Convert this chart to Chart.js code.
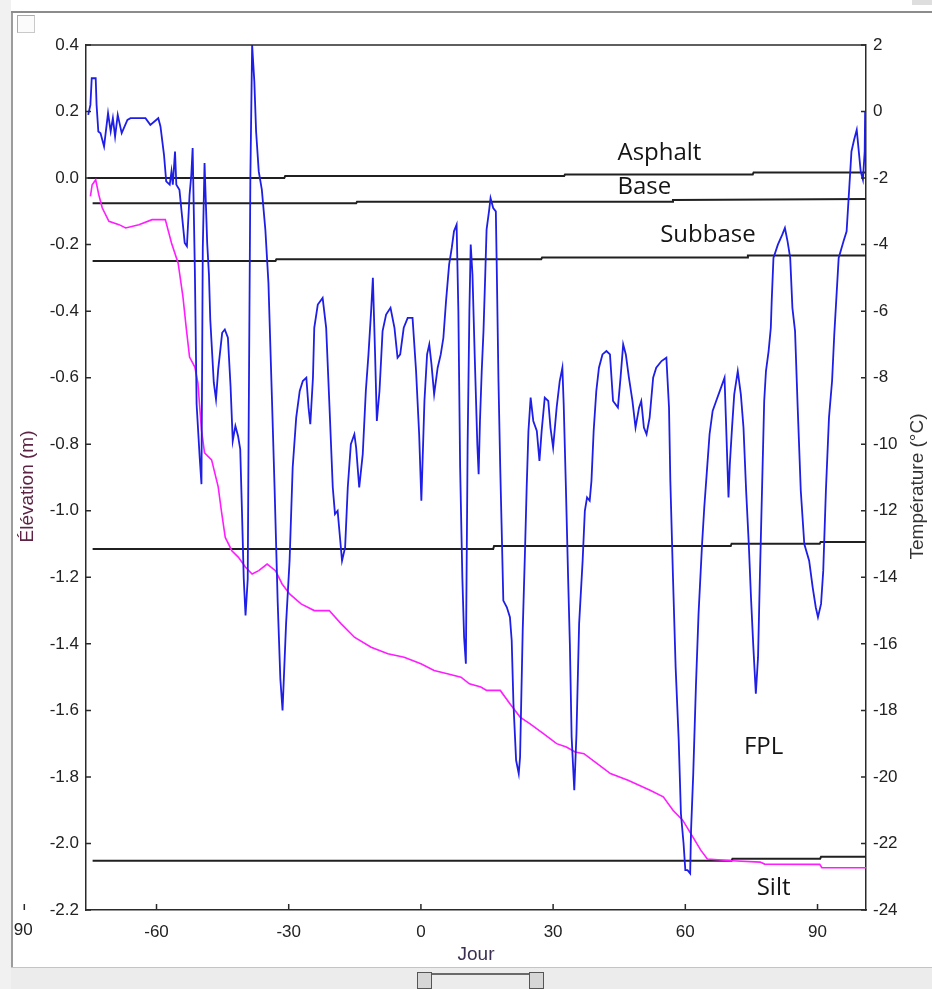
<!DOCTYPE html>
<html>
<head>
<meta charset="utf-8">
<title>Élévation et température</title>
<script src="https://cdn.jsdelivr.net/npm/chart.js@4.4.1/dist/chart.umd.min.js"></script>
<style>
    html, body { margin: 0; padding: 0; background: #ffffff; }
    #wrap { position: relative; width: 932px; height: 989px; overflow: hidden; }
    #chart { position: absolute; left: 0; top: 0; }
    .chrome { position: absolute; z-index: 2; }
    #leftStrip { left: 0; top: 0; width: 11px; height: 989px; background: #f1f1f1; }
    #leftLine { left: 11px; top: 11px; width: 2px; height: 957px; background: #9c9c9c; }
    #topLine { left: 11px; top: 11px; width: 921px; height: 2px; background: #8c8c8c; }
    #topBox { left: 912px; top: 0; width: 20px; height: 5px; background: #dedede; }
    #checkBox { left: 17px; top: 15px; width: 16px; height: 16px; border: 1px solid #c9c9c9; border-top-color: #a9a9a9; border-left-color: #a9a9a9; background: #fbfbfb; }
    #bottomBar { left: 11px; top: 967px; width: 921px; height: 22px; background: #ececec; border-top: 1px solid #c4c4c4; }
    .knob { top: 972px; width: 13px; height: 15px; border: 1px solid #555; background: #d6d6d6; }
    #knobLeft { left: 417px; }
    #knobRight { left: 529px; }
    #knobTrack { left: 432px; top: 973px; width: 97px; height: 2px; background: #6a6a6a; }
</style>
</head>
<body>
<div id="wrap">
    <canvas id="chart" width="932" height="989"></canvas>
    <div class="chrome" id="leftStrip"></div>
    <div class="chrome" id="leftLine"></div>
    <div class="chrome" id="topLine"></div>
    <div class="chrome" id="topBox"></div>
    <div class="chrome" id="checkBox"></div>
    <div class="chrome" id="bottomBar"></div>
    <div class="chrome knob" id="knobLeft"></div>
    <div class="chrome knob" id="knobRight"></div>
    <div class="chrome" id="knobTrack"></div>
</div>
<script>
// Axis ticks
const dayTicks = [-60, -30, 0, 30, 60, 90];
const elevTicks = [0.4, 0.2, 0.0, -0.2, -0.4, -0.6, -0.8, -1.0, -1.2, -1.4, -1.6, -1.8, -2.0, -2.2];
const tempTicks = [2, 0, -2, -4, -6, -8, -10, -12, -14, -16, -18, -20, -22, -24];

// Température (°C), blue trace
const tempDays = [
    -75.5, -75.0, -74.7, -73.8, -73.6, -73.2, -72.7, -71.9, -71.0, -70.4, -69.9, -69.4, -68.8, -67.9, -66.6, -65.9,
    -62.5, -61.4, -59.6, -59.1, -58.3, -57.8, -57.0, -56.6, -56.3, -55.8, -55.5, -54.8, -54.2, -53.6, -53.1, -52.5,
    -52.1, -51.8, -51.3, -50.9, -50.2, -49.8, -49.5, -49.1, -48.9, -48.5, -48.1, -47.8, -47.0, -46.5, -46.0, -45.1,
    -44.5, -43.8, -43.2, -42.7, -42.1, -41.5, -41.0, -40.6, -40.2, -39.8, -39.3, -39.1, -38.7, -38.3, -37.8, -37.4,
    -36.8, -36.1, -35.3, -34.6, -33.8, -33.2, -32.5, -31.9, -31.4, -30.6, -29.8, -29.1, -28.3, -27.5, -26.8, -26.0,
    -25.5, -25.1, -24.5, -24.2, -23.4, -22.3, -21.5, -20.8, -20.0, -19.5, -18.9, -18.3, -17.9, -17.2, -16.6, -15.9,
    -15.1, -14.7, -14.0, -13.2, -12.5, -11.9, -11.3, -10.9, -10.4, -10.0, -9.4, -8.7, -7.9, -6.9, -6.0, -5.3,
    -4.7, -3.9, -3.0, -1.9, -1.1, -0.4, 0.1, 0.8, 1.4, 1.9, 2.4, 3.0, 3.8, 4.5, 5.1, 5.7,
    6.4, 7.0, 7.5, 8.1, 8.5, 8.9, 9.4, 9.8, 10.2, 10.6, 11.0, 11.3, 11.7, 12.2, 12.8, 13.1,
    13.4, 13.8, 14.2, 14.6, 14.9, 15.5, 15.8, 16.4, 17.0, 17.2, 17.6, 18.0, 18.3, 18.7, 19.5, 20.2,
    20.6, 21.0, 21.6, 22.2, 22.5, 23.1, 23.6, 24.0, 24.4, 24.9, 25.5, 26.3, 26.9, 27.4, 28.1, 28.9,
    29.4, 30.0, 30.8, 31.5, 32.1, 32.4, 32.9, 33.4, 33.8, 34.2, 34.8, 35.3, 35.9, 36.7, 37.2, 37.7,
    38.3, 38.7, 39.2, 39.8, 40.4, 41.2, 42.1, 42.9, 43.6, 44.7, 45.3, 45.9, 46.5, 47.2, 48.0, 48.7,
    49.5, 50.0, 50.6, 51.2, 51.9, 52.7, 53.4, 54.6, 55.7, 56.3, 56.6, 57.2, 57.8, 58.5, 59.0, 59.6,
    60.0, 60.5, 61.1, 61.3, 61.8, 62.4, 63.0, 63.8, 64.3, 64.9, 65.5, 66.2, 67.0, 68.1, 68.9, 69.2,
    69.6, 69.8, 70.1, 70.6, 71.1, 71.9, 72.6, 73.2, 73.8, 74.4, 74.9, 75.4, 76.0, 76.5, 76.9, 77.4,
    77.9, 78.3, 78.9, 79.4, 79.6, 80.0, 81.0, 82.0, 82.6, 83.2, 83.8, 84.3, 84.9, 85.5, 86.2, 87.0,
    88.1, 88.9, 89.6, 90.1, 90.8, 91.3, 91.9, 92.6, 93.3, 93.8, 94.8, 95.9, 96.6, 97.2, 97.7, 98.3,
    98.9, 99.4, 99.8, 100.3, 100.7, 100.8
];
const tempValues = [
    -0.1, 0.2, 1.0, 1.0, 0.2, -0.6, -0.65, -1.05, -0.05, -0.6, -0.2, -0.75, -0.1, -0.65, -0.25, -0.2,
    -0.2, -0.4, -0.2, -0.45, -1.3, -2.1, -2.2, -1.8, -2.2, -1.2, -2.2, -2.35, -3.15, -3.95, -4.05, -2.5,
    -1.9, -1.1, -4.75, -8.8, -10.4, -11.2, -4.1, -1.55, -2.35, -3.95, -4.9, -6.25, -8.15, -8.65, -7.75, -6.65,
    -6.55, -6.8, -8.25, -9.9, -9.45, -9.75, -10.15, -12.05, -14.05, -15.15, -14.05, -9.75, -1.95, 2.0, 0.9, -0.6,
    -1.8, -2.35, -3.55, -5.15, -8.65, -11.35, -14.75, -17.05, -18.0, -15.4, -13.5, -10.7, -9.2, -8.4, -8.1, -8.0,
    -8.9, -9.4, -8.0, -6.5, -5.8, -5.6, -6.5, -8.7, -11.3, -12.1, -12.0, -12.9, -13.5, -13.1, -11.3, -10.0,
    -9.7, -10.1, -11.3, -10.3, -8.4, -7.3, -6.0, -5.0, -7.3, -9.3, -8.4, -6.6, -6.1, -5.9, -6.5, -7.4,
    -7.3, -6.5, -6.2, -6.2, -7.8, -9.7, -11.7, -8.7, -7.3, -7.0, -7.6, -8.5, -7.7, -7.3, -6.8, -5.7,
    -4.6, -4.1, -3.6, -3.4, -6.0, -10.7, -14.0, -15.8, -16.6, -10.0, -6.0, -4.0, -4.9, -7.3, -10.0, -10.9,
    -9.3, -7.8, -6.6, -4.9, -3.55, -2.95, -2.6, -2.9, -3.0, -4.6, -8.1, -10.7, -12.4, -14.7, -14.9, -15.2,
    -15.9, -17.8, -19.5, -19.9, -19.4, -15.6, -13.3, -11.3, -9.6, -8.6, -9.3, -9.6, -10.5, -9.6, -8.6, -8.7,
    -9.5, -10.1, -8.9, -8.1, -7.7, -8.8, -11.3, -14.0, -16.0, -18.8, -20.4, -18.7, -15.4, -13.5, -12.0, -11.6,
    -11.7, -11.1, -9.6, -8.4, -7.7, -7.3, -7.2, -7.3, -8.7, -8.9, -8.0, -7.0, -7.3, -8.0, -8.7, -9.5,
    -8.9, -8.7, -9.5, -9.7, -9.2, -8.0, -7.7, -7.5, -7.4, -8.9, -11.1, -14.0, -16.7, -18.9, -21.1, -22.0,
    -22.8, -22.8, -22.9, -21.6, -19.9, -17.3, -15.1, -13.0, -11.9, -10.8, -9.7, -9.0, -8.7, -8.3, -8.0, -9.2,
    -10.8, -11.6, -10.6, -9.5, -8.5, -7.8, -8.5, -9.5, -11.4, -13.0, -14.6, -16.0, -17.5, -16.4, -14.1, -11.4,
    -8.7, -7.8, -7.2, -6.5, -5.7, -4.4, -4.0, -3.7, -3.5, -3.9, -4.4, -5.9, -6.6, -8.9, -11.4, -13.0,
    -13.5, -14.3, -14.9, -15.2, -14.8, -13.8, -11.4, -9.2, -8.1, -6.7, -4.4, -3.9, -3.6, -2.3, -1.2, -0.85,
    -0.55, -1.25, -1.8, -2.05, -1.2, 0.0
];

// Élévation (m) of the frost front, magenta trace
const frostDays = [
    -75.0, -74.6, -73.8, -73.1, -72.3, -70.8, -68.5, -67.0, -64.0, -61.0, -58.0, -56.6, -55.1, -54.0, -53.2, -52.5,
    -51.3, -50.6, -49.8, -49.1, -47.5, -46.0, -45.3, -44.4, -42.9, -41.4, -39.8, -38.3, -36.8, -34.9, -33.0,
    -31.5, -29.8, -27.2, -24.2, -20.8, -18.1, -15.1, -11.3, -7.5, -3.8, 0.0, 3.0, 6.0, 9.1, 11.0, 13.6,
    14.9, 18.0, 20.2, 22.5, 24.7, 27.8, 30.8, 33.0, 35.0, 37.0, 40.0, 43.0, 47.0, 52.0, 55.0, 57.2,
    59.4, 61.7, 63.5, 65.0, 70.6, 77.0, 78.0, 90.5, 91.0, 101.0
];
const frostElev = [
    -0.055, -0.02, -0.005, -0.05, -0.09, -0.13, -0.14, -0.15, -0.14, -0.125, -0.125, -0.195, -0.255, -0.357, -0.457, -0.538,
    -0.568, -0.616, -0.757, -0.826, -0.847, -0.928, -0.998, -1.08, -1.12, -1.14, -1.17, -1.19, -1.18, -1.16, -1.18,
    -1.22, -1.25, -1.28, -1.30, -1.30, -1.34, -1.38, -1.41, -1.43, -1.44, -1.46, -1.48, -1.49, -1.50, -1.52, -1.53,
    -1.54, -1.54, -1.58, -1.62, -1.64, -1.67, -1.70, -1.71, -1.725, -1.73, -1.76, -1.79, -1.81, -1.84, -1.86, -1.90,
    -1.93, -1.98, -2.02, -2.047, -2.052, -2.056, -2.062, -2.063, -2.073, -2.073
];

// Layer boundaries (m)
const asphaltDays = [-75.6, -31.0, -30.8, 32.5, 32.7, 75.3, 75.5, 101.0];
const asphaltElev = [0.0, 0.0, 0.006, 0.006, 0.011, 0.011, 0.017, 0.017];
const baseDays = [-74.5, -14.7, -14.5, 57.0, 57.2, 101.0];
const baseElev = [-0.076, -0.076, -0.071, -0.071, -0.066, -0.063];
const subbaseDays = [-74.5, -33.0, -32.8, 27.3, 27.5, 74.0, 74.2, 101.0];
const subbaseElev = [-0.249, -0.249, -0.244, -0.244, -0.239, -0.239, -0.233, -0.233];
const fplDays = [-74.5, 16.4, 16.6, 70.3, 70.5, 90.5, 90.7, 101.0];
const fplElev = [-1.115, -1.115, -1.106, -1.106, -1.099, -1.099, -1.094, -1.094];
const siltDays = [-74.5, 70.5, 70.7, 90.6, 90.8, 101.0];
const siltElev = [-2.052, -2.052, -2.046, -2.046, -2.040, -2.040];

// Layer names and where they are written (day, elevation of the baseline)
const layerNames = ['Asphalt', 'Base', 'Subbase', 'FPL', 'Silt'];
const layerNameDays = [44.6, 44.6, 54.3, 73.3, 76.2];
const layerNameElev = [0.054, -0.048, -0.191, -1.731, -2.155];

const TICK_FONT = { family: '"Liberation Sans", Arial, sans-serif', size: 17 };
const TITLE_FONT = { family: '"Liberation Sans", Arial, sans-serif', size: 19 };
const AXIS_COLOR = '#2a2a2a';

function toPoints(xs, ys) {
    return xs.map((x, i) => ({ x: x, y: ys[i] }));
}

function layerDataset(days, elev) {
    return {
        data: toPoints(days, elev),
        yAxisID: 'y',
        borderColor: '#202020',
        borderWidth: 2,
        pointRadius: 0,
        tension: 0,
    };
}

function drawVerticalTitle(ctx, text, cx, cy, color) {
    ctx.save();
    ctx.translate(cx, cy);
    ctx.rotate(-Math.PI / 2);
    ctx.fillStyle = color;
    ctx.font = `${TITLE_FONT.size}px ${TITLE_FONT.family}`;
    ctx.textAlign = 'center';
    ctx.textBaseline = 'middle';
    ctx.fillText(text, 0, 0);
    ctx.restore();
}

// inward tick marks, top frame line, vertical titles, stray -90 tick, layer names
const chartDecor = {
    id: 'chartDecor',
    afterDraw(chart) {
        const ctx = chart.ctx;
        const area = chart.chartArea;
        const x = chart.scales.x;
        const y = chart.scales.y;
        const yT = chart.scales.yT;

        ctx.save();
        ctx.strokeStyle = AXIS_COLOR;
        ctx.lineWidth = 1.5;

        ctx.beginPath();
        ctx.moveTo(area.left, area.top);
        ctx.lineTo(area.right, area.top);
        ctx.stroke();

        ctx.beginPath();
        elevTicks.forEach((v) => {
            const py = y.getPixelForValue(v);
            ctx.moveTo(area.left, py);
            ctx.lineTo(area.left + 5, py);
        });
        tempTicks.forEach((v) => {
            const py = yT.getPixelForValue(v);
            ctx.moveTo(area.right, py);
            ctx.lineTo(area.right - 5, py);
        });
        dayTicks.concat([-90]).forEach((v) => {
            const px = x.getPixelForValue(v);
            ctx.moveTo(px, area.bottom);
            ctx.lineTo(px, area.bottom - 6);
        });
        ctx.stroke();

        // the -90 label sits outside the plot, its minus hidden by the window border
        ctx.fillStyle = '#222';
        ctx.font = `${TICK_FONT.size}px ${TICK_FONT.family}`;
        ctx.textAlign = 'center';
        ctx.textBaseline = 'top';
        ctx.fillText('-90', x.getPixelForValue(-90) - 4, area.bottom + 12);
        ctx.restore();

        const midY = (area.top + area.bottom) / 2 + 9;
        drawVerticalTitle(ctx, 'Élévation (m)', area.left - 58, midY, '#5e2344');
        drawVerticalTitle(ctx, 'Température (°C)', area.right + 52, midY, '#333');

        ctx.save();
        ctx.fillStyle = '#151515';
        ctx.font = '24px "Open Sans", sans-serif';
        ctx.textAlign = 'left';
        ctx.textBaseline = 'alphabetic';
        layerNames.forEach((name, i) => {
            ctx.fillText(name, x.getPixelForValue(layerNameDays[i]), y.getPixelForValue(layerNameElev[i]));
        });
        ctx.restore();
    }
};

const ctx = document.getElementById('chart').getContext('2d');
new Chart(ctx, {
    type: 'line',
    data: {
        datasets: [
            {
                label: 'Température',
                data: toPoints(tempDays, tempValues),
                yAxisID: 'yT',
                borderColor: '#1e1ee6',
                borderWidth: 1.8,
                pointRadius: 0,
                tension: 0,
            },
            {
                label: 'Front de gel',
                data: toPoints(frostDays, frostElev),
                yAxisID: 'y',
                borderColor: '#ff1cff',
                borderWidth: 1.6,
                pointRadius: 0,
                tension: 0,
            },
            layerDataset(asphaltDays, asphaltElev),
            layerDataset(baseDays, baseElev),
            layerDataset(subbaseDays, subbaseElev),
            layerDataset(fplDays, fplElev),
            layerDataset(siltDays, siltElev),
        ]
    },
    options: {
        responsive: false,
        animation: false,
        devicePixelRatio: 1,
        layout: { padding: { top: 45, left: 0, right: 0, bottom: 0 } },
        plugins: {
            legend: { display: false },
            tooltip: { enabled: false },
        },
        scales: {
            x: {
                type: 'linear',
                min: -76,
                max: 101,
                afterBuildTicks: (scale) => { scale.ticks = dayTicks.map((v) => ({ value: v })); },
                afterFit: (scale) => { scale.height = 79; },
                grid: { display: false, drawTicks: false },
                border: { display: true, color: AXIS_COLOR, width: 1.5 },
                ticks: { autoSkip: false, maxRotation: 0, padding: 12, color: '#222', font: TICK_FONT },
                title: { display: true, text: 'Jour', color: '#3b2f52', font: TITLE_FONT, padding: { top: 0, bottom: 23 } },
            },
            y: {
                position: 'left',
                min: -2.2,
                max: 0.4,
                afterBuildTicks: (scale) => { scale.ticks = elevTicks.map((v) => ({ value: v })); },
                afterFit: (scale) => { scale.width = 86; },
                grid: { display: false, drawTicks: false },
                border: { display: true, color: AXIS_COLOR, width: 1.5 },
                ticks: { autoSkip: false, padding: 7, color: '#222', font: TICK_FONT, callback: (v) => Number(v).toFixed(1) },
            },
            yT: {
                position: 'right',
                min: -24,
                max: 2,
                afterBuildTicks: (scale) => { scale.ticks = tempTicks.map((v) => ({ value: v })); },
                afterFit: (scale) => { scale.width = 66; },
                grid: { display: false, drawTicks: false },
                border: { display: true, color: AXIS_COLOR, width: 1.5 },
                ticks: { autoSkip: false, padding: 7, color: '#222', font: TICK_FONT, callback: (v) => String(v) },
            },
        },
    },
    plugins: [chartDecor],
});
</script>
</body>
</html>
